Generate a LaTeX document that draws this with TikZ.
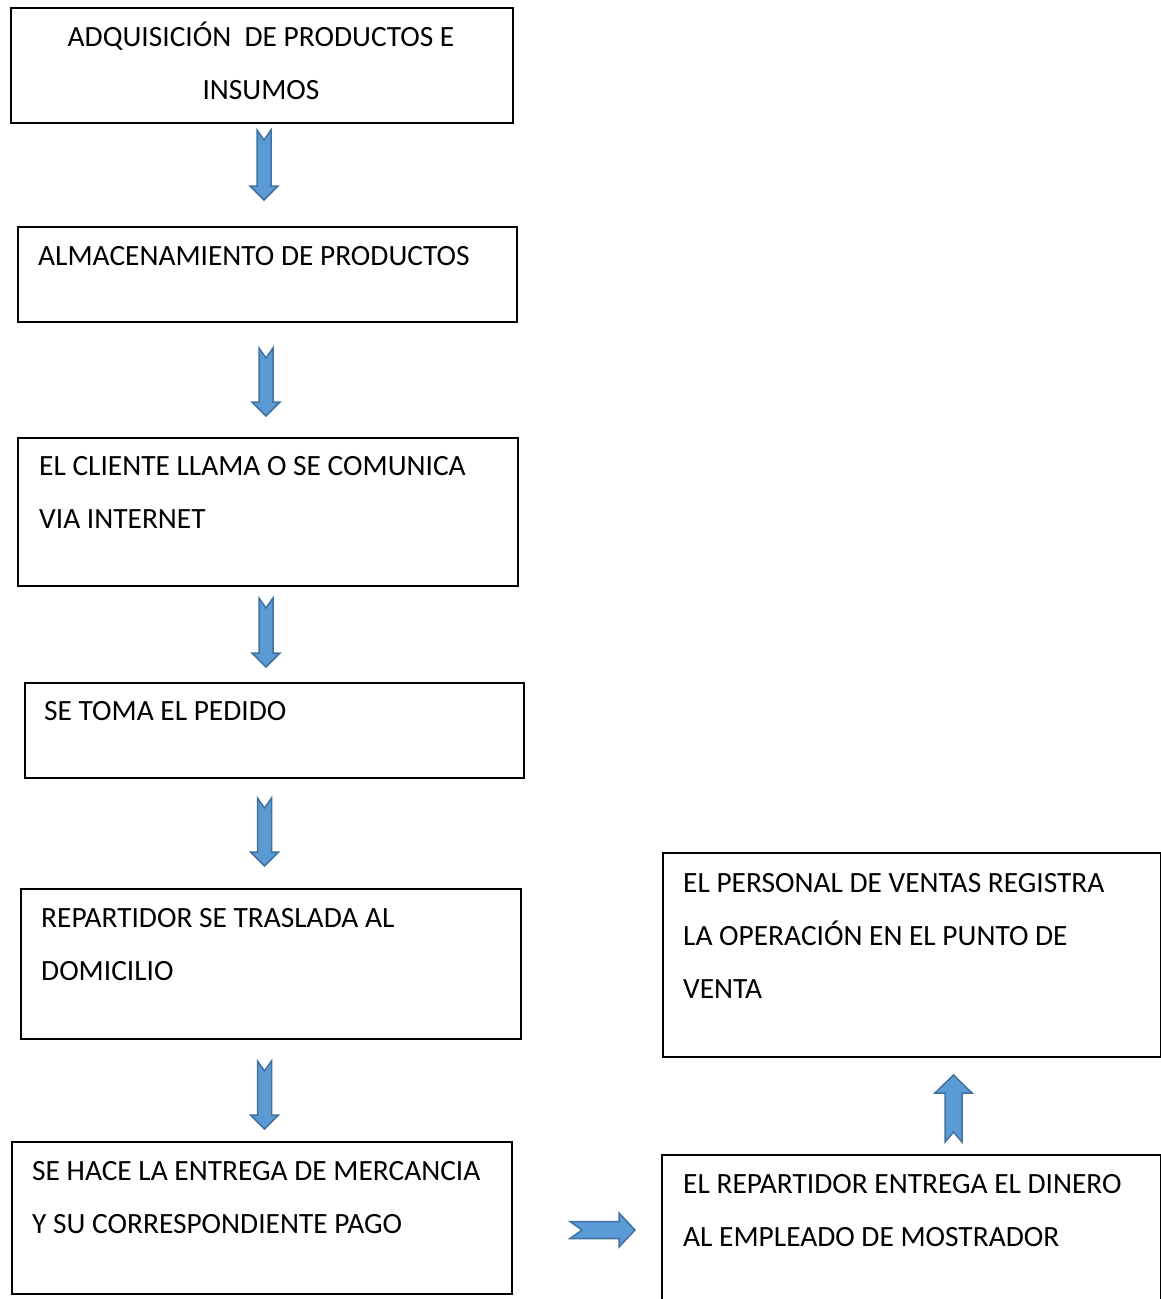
\documentclass[tikz,border=0pt]{standalone}
\usepackage{fontspec}
\setmainfont{Carlito}
\begin{document}
\begin{tikzpicture}[x=1pt,y=-1pt,
  box/.style={draw=black,line width=1.8pt,fill=white,inner sep=0pt,anchor=north west},
  txt/.style={anchor=base west,inner sep=0pt,font=\fontsize{29.4}{35}\selectfont},
  ctxt/.style={anchor=base,inner sep=0pt,font=\fontsize{29.4}{35}\selectfont},
  barrow/.style={fill={rgb,255:red,91;green,155;blue,213},draw={rgb,255:red,65;green,113;blue,156},line width=1.5pt,line join=miter}]
\useasboundingbox (0,0) rectangle (1161,1299);
\clip (0,0) rectangle (1161,1299);
% boxes
\node[box,minimum width=502pt,minimum height=115pt] (b1) at (10,7) {};
\node[box,minimum width=499pt,minimum height=95pt] (b2) at (17,226) {};
\node[box,minimum width=500pt,minimum height=148pt] (b3) at (17,437) {};
\node[box,minimum width=499pt,minimum height=95pt] (b4) at (24,682) {};
\node[box,minimum width=500pt,minimum height=150pt] (b5) at (20,888) {};
\node[box,minimum width=500pt,minimum height=152pt] (b6) at (11,1141) {};
\node[box,minimum width=499pt,minimum height=170pt] (b7) at (661,1154) {};
\node[box,minimum width=498pt,minimum height=204pt] (b8) at (662,852) {};
% texts
\node[ctxt] (t1a) at (261,46) {ADQUISICIÓN\ \ DE PRODUCTOS E};
\node[ctxt] (t1b) at (261,99) {INSUMOS};
\node[txt] (t2a) at (38,265) {ALMACENAMIENTO DE PRODUCTOS};
\node[txt] (t3a) at (39,475) {EL CLIENTE LLAMA O SE COMUNICA};
\node[txt] (t3b) at (39,528) {VIA INTERNET};
\node[txt] (t4a) at (44,720) {SE TOMA EL PEDIDO};
\node[txt] (t5a) at (41,927) {REPARTIDOR SE TRASLADA AL};
\node[txt] (t5b) at (41,980) {DOMICILIO};
\node[txt] (t6a) at (32,1180) {SE HACE LA ENTREGA DE MERCANCIA};
\node[txt] (t6b) at (32,1233) {Y SU CORRESPONDIENTE PAGO};
\node[txt] (t7a) at (683,1193) {EL REPARTIDOR ENTREGA EL DINERO};
\node[txt] (t7b) at (683,1246) {AL EMPLEADO DE MOSTRADOR};
\node[txt] (t8a) at (683,892) {EL PERSONAL DE VENTAS REGISTRA};
\node[txt] (t8b) at (683,945) {LA OPERACIÓN EN EL PUNTO DE};
\node[txt] (t8c) at (683,998) {VENTA};
% down arrows
\foreach \cx/\ya/\yb in {264/130/200, 266/348/416, 266/598/667, 264.5/798/866, 264.5/1061/1129}{
  \draw[barrow] (\cx-7,\ya) -- (\cx,\ya+10) -- (\cx+7,\ya) -- (\cx+7,\yb-14)
     -- (\cx+14,\yb-14) -- (\cx,\yb) -- (\cx-14,\yb-14) -- (\cx-7,\yb-14) -- cycle;
}
% right arrow
\draw[barrow] (570,1221.5) -- (619,1221.5) -- (619,1213) -- (635,1230) -- (619,1247)
   -- (619,1238.5) -- (570,1238.5) -- (582,1230) -- cycle;
% up arrow
\draw[barrow] (945,1142) -- (953.5,1132) -- (962,1142) -- (962,1093) -- (972,1093)
   -- (953.5,1075) -- (935,1093) -- (945,1093) -- cycle;
\end{tikzpicture}
\end{document}
